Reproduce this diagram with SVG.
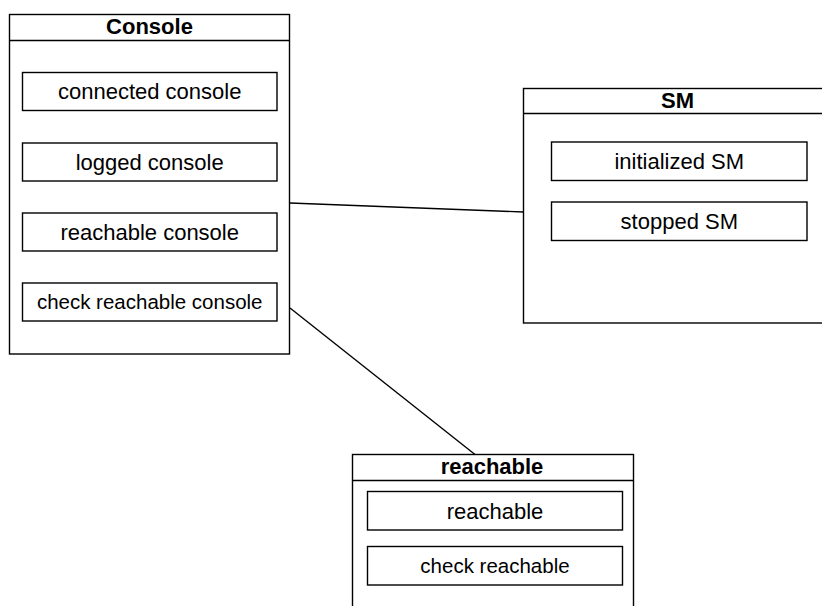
<svg xmlns="http://www.w3.org/2000/svg" width="822" height="606" viewBox="0 0 822 606">
<style>
.box{fill:#fff;stroke:#000;stroke-width:1.4}
.hdr{stroke:#000;stroke-width:1.4}
.conn{stroke:#000;stroke-width:1.4;fill:none}
.t{font-family:"Liberation Sans",Arial,sans-serif;font-size:22px;text-anchor:middle;fill:#000}
.s{font-size:20.5px}
.b{font-weight:bold}
</style>
<rect width="822" height="606" fill="#fff"/>
<g id="connectors">
<line class="conn" x1="290" y1="203" x2="523.5" y2="212"/>
<line class="conn" x1="290" y1="308" x2="475" y2="454.5"/>
</g>
<g id="Console">
<rect class="box" x="9.5" y="14.5" width="280" height="339.5"/>
<line class="hdr" x1="9.5" y1="40.5" x2="289.5" y2="40.5"/>
<text class="t b" x="149.5" y="34">Console</text>
<g id="connected_console"><rect class="box" x="22.5" y="72.5" width="254.5" height="38"/><text class="t" x="149.7" y="99">connected console</text></g>
<g id="logged_console"><rect class="box" x="22.5" y="143" width="254.5" height="38"/><text class="t" x="149.7" y="169.5">logged console</text></g>
<g id="reachable_console"><rect class="box" x="22.5" y="213" width="254.5" height="38"/><text class="t" x="149.7" y="239.5">reachable console</text></g>
<g id="check_reachable_console"><rect class="box" x="22.5" y="283" width="254.5" height="38"/><text class="t s" x="149.7" y="309">check reachable console</text></g>
</g>
<g id="SM">
<rect class="box" x="523.5" y="88.5" width="310" height="234.5"/>
<line class="hdr" x1="523.5" y1="113.5" x2="833.5" y2="113.5"/>
<text class="t b" x="677.5" y="107.5">SM</text>
<g id="initialized_SM"><rect class="box" x="551.5" y="142" width="255.5" height="38.5"/><text class="t" x="679.3" y="169">initialized SM</text></g>
<g id="stopped_SM"><rect class="box" x="551.5" y="202" width="255.5" height="38.5"/><text class="t" x="679.3" y="229">stopped SM</text></g>
</g>
<g id="reachable">
<rect class="box" x="352.5" y="454.5" width="281" height="170"/>
<line class="hdr" x1="352.5" y1="480.5" x2="633.5" y2="480.5"/>
<text class="t b" x="492" y="474.3">reachable</text>
<g id="reachable_inner"><rect class="box" x="367.5" y="491.5" width="255" height="38.5"/><text class="t" x="495" y="518.5">reachable</text></g>
<g id="check_reachable"><rect class="box" x="367.5" y="546.5" width="255" height="38.5"/><text class="t s" x="495" y="573">check reachable</text></g>
</g>
</svg>
